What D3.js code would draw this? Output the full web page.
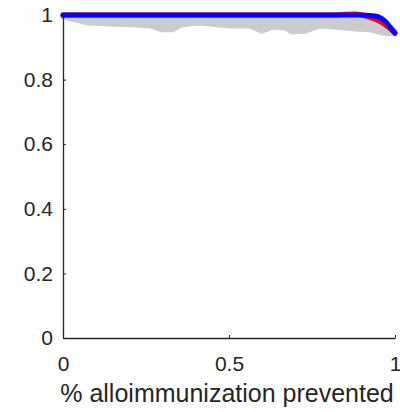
<!DOCTYPE html>
<html><head><meta charset="utf-8">
<script src="https://cdn.jsdelivr.net/npm/d3@7"></script>
<style>body{margin:0;background:#fff}svg{display:block;font-family:"Liberation Sans",Arial,sans-serif}</style>
</head><body>
<svg id="c" width="400" height="412"></svg>
<script>
const xTicks = [0, 0.5, 1];
const yTicks = [0, 0.2, 0.4, 0.6, 0.8, 1];
const xLabel = "% alloimmunization prevented";

// gray simulation traces
const grayX = [0,0.036,0.075,0.142,0.226,0.262,0.298,0.328,0.358,0.398,0.443,0.503,0.563,0.584,0.599,0.633,0.669,0.69,0.714,0.729,0.774,0.819,0.88,0.925,0.964,1.0];
const grayLow = [0.994,0.985,0.975,0.972,0.969,0.966,0.954,0.954,0.969,0.975,0.972,0.966,0.966,0.957,0.950,0.963,0.960,0.947,0.950,0.950,0.966,0.963,0.957,0.954,0.944,0.941];
const grayMid1 = [0.995,0.988,0.981,0.979,0.976,0.974,0.966,0.966,0.976,0.98,0.978,0.974,0.974,0.967,0.962,0.971,0.969,0.959,0.962,0.962,0.974,0.971,0.967,0.962,0.952,0.943];
const grayMid2 = [0.996,0.991,0.986,0.985,0.983,0.981,0.976,0.976,0.983,0.986,0.985,0.981,0.981,0.977,0.974,0.979,0.978,0.972,0.974,0.974,0.981,0.979,0.977,0.971,0.961,0.945];
const grayTop = [0.998,0.996,0.994,0.993,0.992,0.991,0.988,0.988,0.992,0.994,0.993,0.991,0.991,0.988,0.986,0.99,0.989,0.985,0.986,0.986,0.99,0.989,0.987,0.982,0.97,0.95];
const grays = [grayLow, grayMid1, grayMid2, grayTop];

const lineX = [0,0.2,0.4,0.6,0.8,0.85,0.88,0.9,0.93,0.95,0.97,0.985,1];
const redY  = [1,1,1,1,1,1.002,1.003,1.0,0.99,0.982,0.97,0.958,0.944];
const blueY = [1,1,1,1,1,1,1,1,0.998,0.994,0.981,0.963,0.944];

const svg = d3.select("#c");
const x = d3.scaleLinear().domain([0,1]).range([63,395]);
const y = d3.scaleLinear().domain([0,1]).range([338,15]);
const grayLine = d3.line().x(d=>x(d[0])).y(d=>y(d[1]));
const line = d3.line().x(d=>x(d[0])).y(d=>y(d[1])).curve(d3.curveMonotoneX);

const g = svg.append("g");
grays.forEach(s=>{
  g.append("path").datum(grayX.map((v,i)=>[v,s[i]])).attr("d",grayLine)
   .attr("fill","none").attr("stroke","#cccccc").attr("stroke-width",5)
   .attr("stroke-linecap","round").attr("stroke-linejoin","round");
});
g.append("path").datum(lineX.map((v,i)=>[v,redY[i]])).attr("d",line)
 .attr("fill","none").attr("stroke","#ff0000").attr("stroke-width",5).attr("stroke-linecap","round");
g.append("path").datum(lineX.map((v,i)=>[v,blueY[i]])).attr("d",line)
 .attr("fill","none").attr("stroke","#0000ff").attr("stroke-width",5).attr("stroke-linecap","round");

const xa = svg.append("g").attr("transform","translate(0,338)")
  .call(d3.axisBottom(x).tickValues(xTicks).tickFormat(d3.format("~g")).tickSizeInner(-3).tickSizeOuter(0).tickPadding(18));
const ya = svg.append("g").attr("transform","translate(63,0)")
  .call(d3.axisLeft(y).tickValues(yTicks).tickFormat(d3.format("~g")).tickSizeInner(-3).tickSizeOuter(0).tickPadding(10));
[xa,ya].forEach(a=>{
  a.select(".domain").attr("stroke","#262626").attr("stroke-width",1.3);
  a.selectAll(".tick line").attr("stroke","#262626");
  a.selectAll(".tick text").attr("fill","#262626").attr("font-size",21).attr("font-family","Liberation Sans, Arial, sans-serif");
});
svg.append("text").attr("x",227).attr("y",402).attr("text-anchor","middle")
  .attr("font-size",25).attr("fill","#262626").text(xLabel);
</script>
</body></html>
